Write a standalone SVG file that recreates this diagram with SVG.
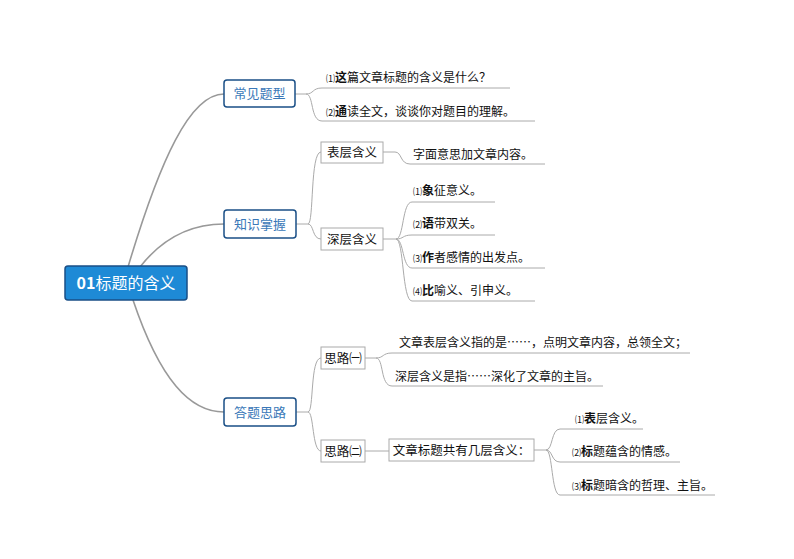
<svg xmlns="http://www.w3.org/2000/svg" width="794" height="559" viewBox="0 0 794 559">
<style>
text{font-family:"Noto Sans CJK SC","Liberation Sans",sans-serif;font-size:12px;fill:#111}
.l1 rect{fill:#fff;stroke:#1a4f86;stroke-width:1.5}
.l1 text{fill:#3a78b8;font-size:13px;text-anchor:middle}
.bx rect{fill:#fff;stroke:#aaa;stroke-width:1}
.bx text{text-anchor:middle;font-size:12.5px}
.c path{fill:none;stroke:#aaa;stroke-width:1}
.c .m{stroke:#999;stroke-width:1.6}
b{font-weight:bold}
</style>
<g class="c">
<path class="m" d="M128,267 C160,160 190,94 224,94"/>
<path class="m" d="M140,267 C165,235 195,224 224,224"/>
<path class="m" d="M133,300 C160,380 190,412 224,412"/>
<path d="M295,94 H306 C314,94 312,88 322,88 H510 M306,94 C314,94 310,121 322,121 H535"/>
<path d="M296,224 H308 C314,224 310,152 321,152 M308,224 C314,224 312,239 321,239"/>
<path d="M383,152 H395 C402,152 400,164 410,164 H545"/>
<path d="M383,239 H396 C404,239 402,202 412,202 H495 M396,239 C404,239 402,235 412,235 H495 M396,239 C404,239 402,268 412,268 H545 M396,239 C404,239 402,301 412,301 H535"/>
<path d="M296,412 H308 C314,412 310,358 321,358 M308,412 C314,412 312,451 321,451"/>
<path d="M365,358 H376 C384,358 382,353 392,353 H690 M376,358 C384,358 380,386 392,386 H603"/>
<path d="M365,451 H389"/>
<path d="M534,450 H546 C553,450 551,429 560,429 H643 M546,450 C553,450 551,462 560,462 H680 M546,450 C553,450 551,495 560,495 H715"/>
</g>
<g id="root"><rect x="65" y="266" width="122" height="34" rx="3" fill="#1e8ad6" stroke="#1a4f86" stroke-width="1.5"/><text x="126" y="289" text-anchor="middle" style="fill:#fff;font-size:16px"><tspan font-weight="bold">01</tspan>标题的含义</text></g>
<g id="n1" class="l1"><rect x="224" y="80" width="71" height="27" rx="3"/><text x="259.5" y="98">常见题型</text></g>
<g id="n2" class="l1"><rect x="224" y="210" width="72" height="28" rx="3"/><text x="260" y="229">知识掌握</text></g>
<g id="n3" class="l1"><rect x="224" y="398" width="72" height="28" rx="3"/><text x="260" y="417">答题思路</text></g>
<g id="t1"><text x="326" y="82"><tspan font-size="9">⑴</tspan><tspan font-weight="bold">这</tspan>篇文章标题的含义是什么？</text></g>
<g id="t2"><text x="326" y="116"><tspan font-size="9">⑵</tspan><tspan font-weight="bold">通</tspan>读全文，谈谈你对题目的理解。</text></g>
<g id="b1" class="bx"><rect x="321" y="142" width="62" height="21"/><text x="352" y="157">表层含义</text></g>
<g id="b2" class="bx"><rect x="321" y="228" width="62" height="22"/><text x="352" y="244">深层含义</text></g>
<g id="t3"><text x="413" y="159">字面意思加文章内容。</text></g>
<g id="t4"><text x="413" y="195"><tspan font-size="9">⑴</tspan><tspan font-weight="bold">象</tspan>征意义。</text></g>
<g id="t5"><text x="413" y="228"><tspan font-size="9">⑵</tspan><tspan font-weight="bold">语</tspan>带双关。</text></g>
<g id="t6"><text x="413" y="262"><tspan font-size="9">⑶</tspan><tspan font-weight="bold">作</tspan>者感情的出发点。</text></g>
<g id="t7"><text x="413" y="295"><tspan font-size="9">⑷</tspan><tspan font-weight="bold">比</tspan>喻义、引申义。</text></g>
<g id="b3" class="bx"><rect x="321" y="347" width="44" height="22"/><text x="343" y="363">思路㈠</text></g>
<g id="b4" class="bx"><rect x="321" y="440" width="44" height="22"/><text x="343" y="456">思路㈡</text></g>
<g id="t8"><text x="399" y="347">文章表层含义指的是……，点明文章内容，总领全文；</text></g>
<g id="t9"><text x="395" y="381">深层含义是指……深化了文章的主旨。</text></g>
<g id="b5" class="bx"><rect x="389" y="439" width="145" height="22"/><text x="461.5" y="455">文章标题共有几层含义：</text></g>
<g id="t10"><text x="575" y="423"><tspan font-size="9">⑴</tspan><tspan font-weight="bold">表</tspan>层含义。</text></g>
<g id="t11"><text x="572" y="456"><tspan font-size="9">⑵</tspan><tspan font-weight="bold">标</tspan>题蕴含的情感。</text></g>
<g id="t12"><text x="572" y="490"><tspan font-size="9">⑶</tspan><tspan font-weight="bold">标</tspan>题暗含的哲理、主旨。</text></g>
</svg>
